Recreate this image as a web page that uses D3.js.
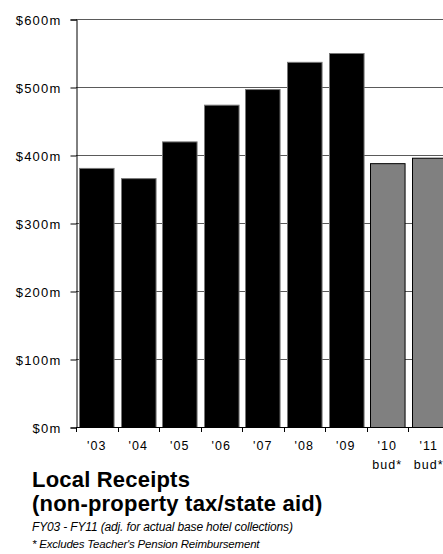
<!DOCTYPE html>
<html>
<head>
<meta charset="utf-8">
<script src="https://cdn.jsdelivr.net/npm/d3@7"></script>
<style>
html,body{margin:0;padding:0;background:#fff;}
svg{display:block;font-family:"Liberation Sans",Arial,sans-serif;}
</style>
</head>
<body>
<svg id="chart" width="443" height="554"></svg>
<script>
const categories = ["'03","'04","'05","'06","'07","'08","'09","'10","'11"];
const subLabels = ["","","","","","","","bud*","bud*"];
const values = [381,366,420,474,497,537,550,388,396];
const budgeted = [false,false,false,false,false,false,false,true,true];
const yTicks = [0,100,200,300,400,500,600];
const yTickLabels = ["$0m","$100m","$200m","$300m","$400m","$500m","$600m"];
const titleLines = ["Local Receipts","(non-property tax/state aid)"];
const noteLines = ["FY03 - FY11 (adj. for actual base hotel collections)","* Excludes Teacher's Pension Reimbursement"];

(function(){
const svg = d3.select("#chart");
const plotLeft = 76, plotTop = 19, plotBottom = 427;
const step = 41.5;
const plotRight = plotLeft + step*categories.length;

const y = d3.scaleLinear().domain([0,600]).range([plotBottom, plotTop]);
const xBand = d3.scaleBand().domain(categories).range([plotLeft, plotRight]).padding(0);
const xBar = d3.scaleBand().domain(categories).range([plotLeft, plotRight]).paddingInner(0.17).paddingOuter(0.07);

// gridlines
svg.append("g").selectAll("line").data(yTicks.filter(d=>d>0)).join("line")
  .attr("x1", plotLeft).attr("x2", 443)
  .attr("y1", d=>y(d)+0.5).attr("y2", d=>y(d)+0.5)
  .attr("stroke", "#5a5a5a").attr("stroke-width", 1);

// bars
svg.append("g").selectAll("rect").data(values).join("rect")
  .attr("x", (d,i)=>Math.round(xBar(categories[i]))+0.5)
  .attr("y", d=>y(d)+0.5)
  .attr("width", xBar.bandwidth())
  .attr("height", d=>plotBottom - y(d))
  .attr("fill", (d,i)=>budgeted[i] ? "#808080" : "#000")
  .attr("stroke", (d,i)=>budgeted[i] ? "#000" : "#777")
  .attr("stroke-width", 1);

// y axis
const yAxis = d3.axisLeft(y).tickValues(yTicks).tickSize(6).tickPadding(9)
  .tickFormat((d,i)=>yTickLabels[i]);
const gy = svg.append("g").attr("transform", `translate(${plotLeft+0.5},0.5)`).call(yAxis);
gy.select(".domain").attr("stroke","#000");
gy.selectAll(".tick line").attr("stroke","#000");
gy.selectAll(".tick text").attr("font-size", 13).attr("fill","#000")
  .attr("letter-spacing", 1.2).attr("font-family","'Liberation Sans',Arial,sans-serif")
  .attr("dy","0.36em");

// x axis line
svg.append("line").attr("x1", plotLeft).attr("x2", 443)
  .attr("y1", plotBottom+0.5).attr("y2", plotBottom+0.5).attr("stroke","#000");
// x ticks at band boundaries
svg.append("g").selectAll("line").data(categories).join("line")
  .attr("x1", d=>Math.round(xBand(d))+0.5).attr("x2", d=>Math.round(xBand(d))+0.5)
  .attr("y1", plotBottom).attr("y2", plotBottom+5).attr("stroke","#000");

// x labels
const gx = svg.append("g").selectAll("g").data(categories).join("g")
  .attr("transform", d=>`translate(${xBand(d)+xBand.bandwidth()/2},0)`);
gx.append("text").attr("y", 450).attr("text-anchor","middle")
  .attr("font-size", 12.5).attr("letter-spacing", 1.1).text(d=>d);
gx.append("text").attr("y", 469).attr("text-anchor","middle")
  .attr("font-size", 12.5).attr("letter-spacing", 1.1).text((d,i)=>subLabels[i]);

// titles
svg.append("g").selectAll("text").data(titleLines).join("text")
  .attr("x", 32).attr("y", (d,i)=>487 + i*23.5)
  .attr("font-size", 22).attr("font-weight","bold").attr("letter-spacing", 0.2)
  .text(d=>d);
svg.append("g").selectAll("text").data(noteLines).join("text")
  .attr("x", 32).attr("y", (d,i)=>531 + i*17)
  .attr("font-size", (d,i)=>i===0 ? 12 : 11.5)
  .attr("letter-spacing", (d,i)=>i===0 ? -0.15 : -0.2)
  .attr("font-style","italic")
  .text(d=>d);
})();
</script>
</body>
</html>
